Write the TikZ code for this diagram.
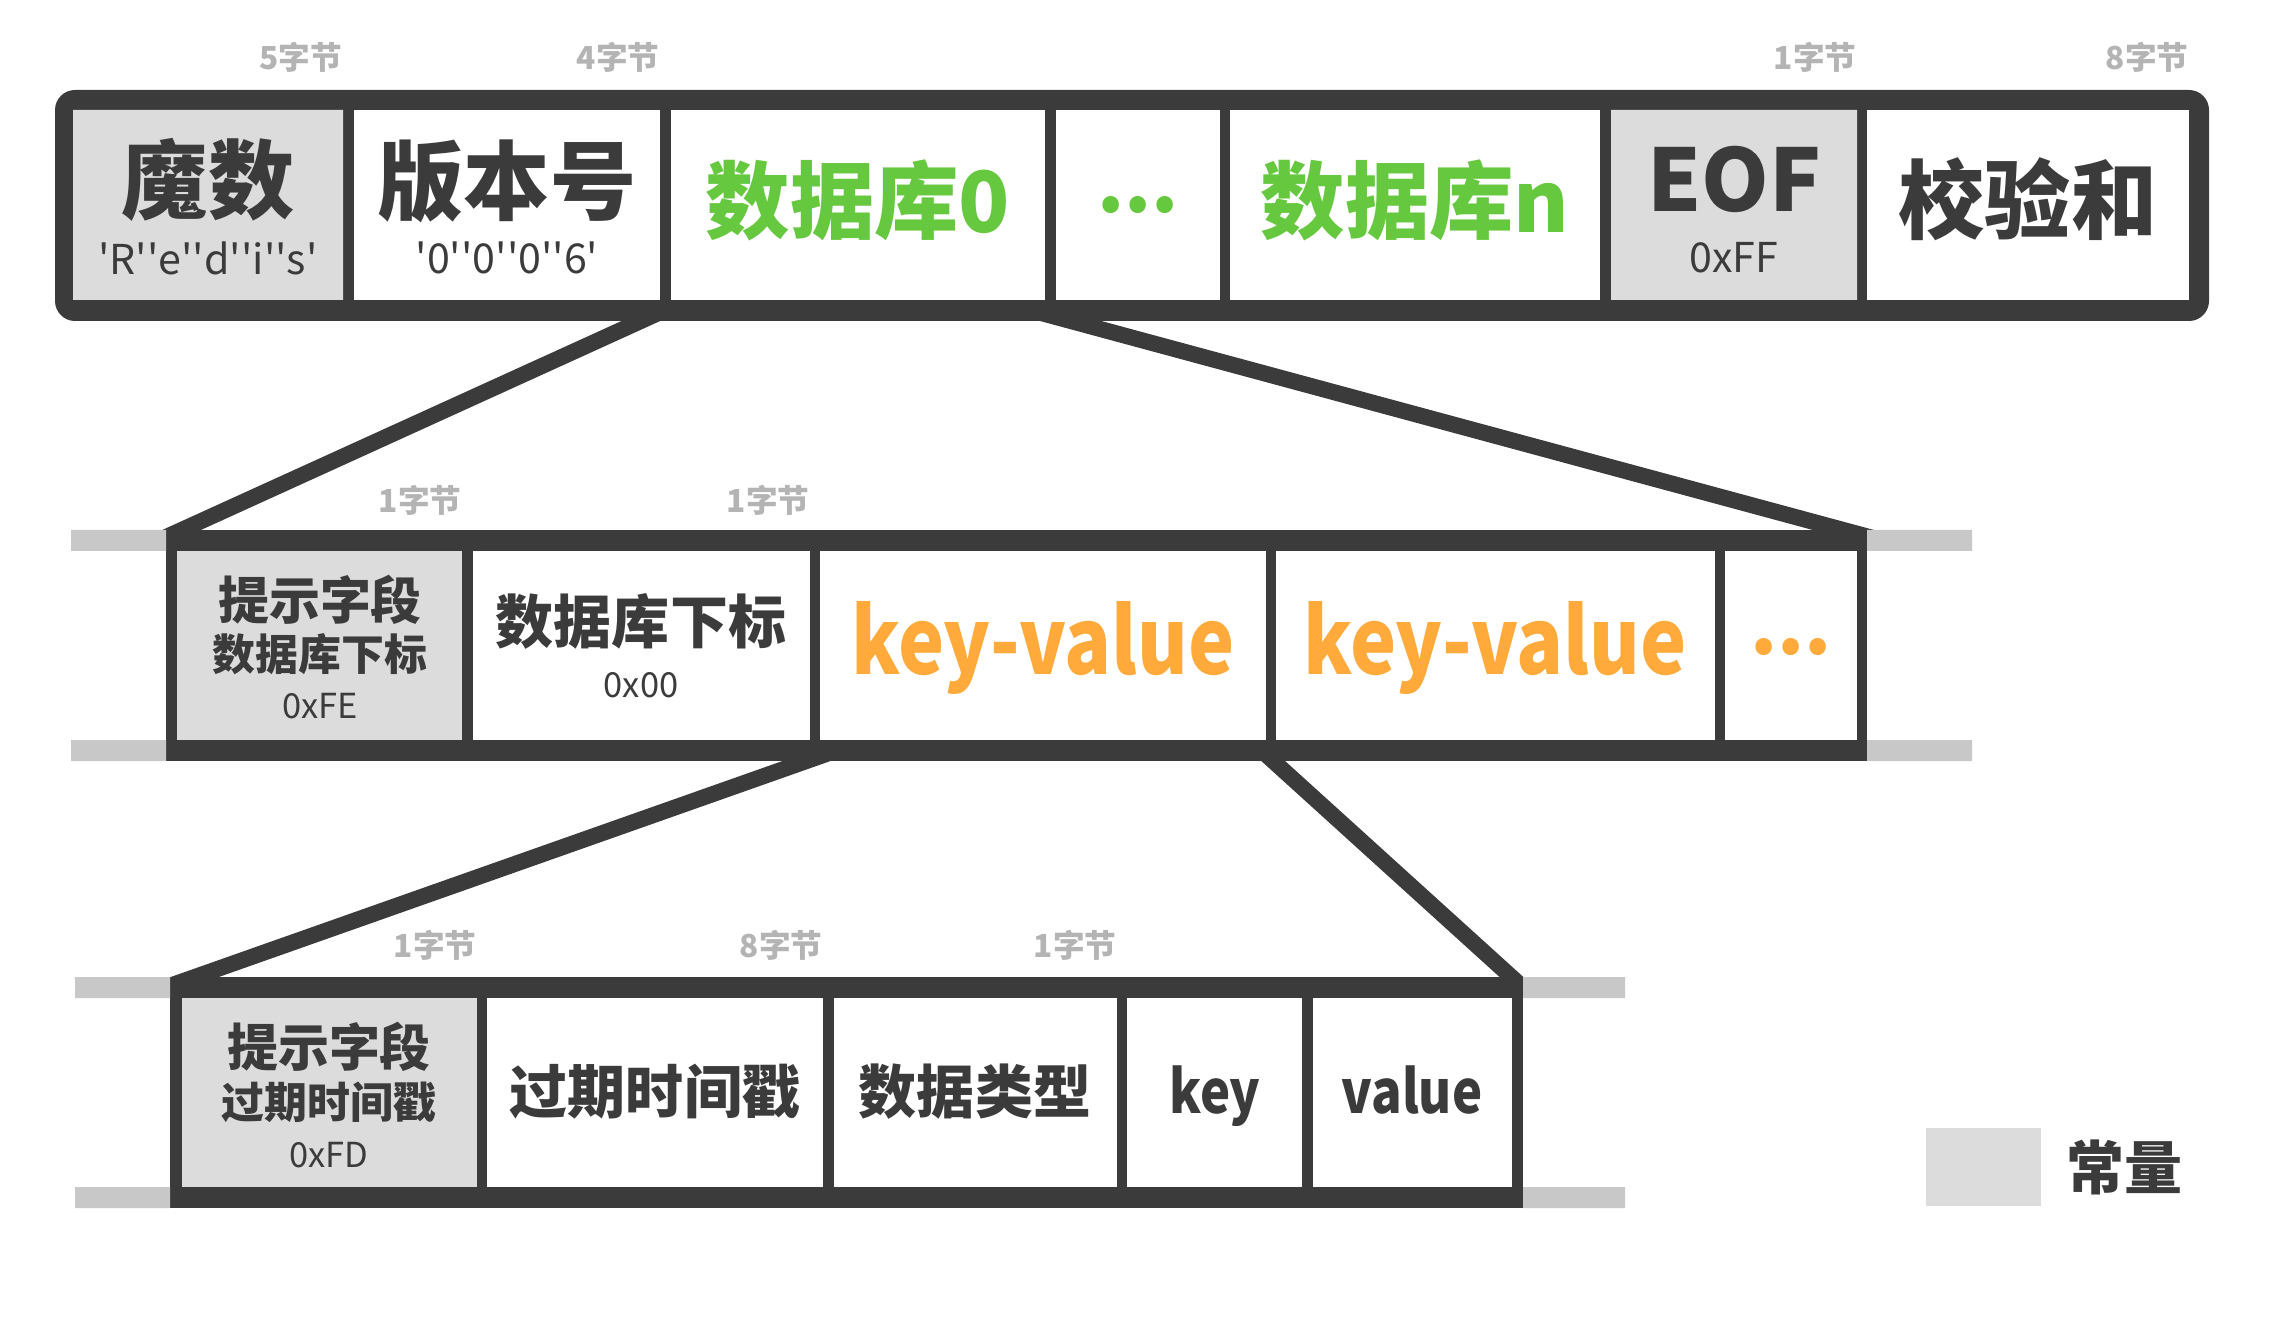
\documentclass[tikz,border=0pt]{standalone}
\usepackage{fontspec}
\setmainfont{Noto Sans CJK SC}
\definecolor{dark}{HTML}{3B3B3B}
\definecolor{constgray}{HTML}{DCDCDC}
\definecolor{tabgray}{HTML}{C8C8C8}
\definecolor{lblgray}{HTML}{B4B4B4}
\definecolor{dbgreen}{HTML}{66C83F}
\definecolor{kvorange}{HTML}{FFAA3B}
\newcommand{\q}{\textquotesingle}
\newcommand{\narrow}[1]{\scalebox{0.85}[1]{#1}}
\begin{document}
\begin{tikzpicture}[x=0.01cm, y=-0.01cm, line join=miter,
	diag/.style={draw=dark, line width=0.16cm},
	txt/.style={inner sep=0pt, text=dark, font=\bfseries\fontsize{#1}{#1}\selectfont},
	sub/.style={inner sep=0pt, text=dark, font=\fontsize{#1}{#1}\selectfont},
	bytes/.style={anchor=east, inner sep=0pt, text=lblgray, font=\bfseries\fontsize{9}{9}\selectfont}]
	\useasboundingbox (0,0) rectangle (2285,1331);
	% zoom lines, drawn first so the bars cover their ends
	\coordinate (db0a) at (687,300); \coordinate (midtl) at (164,538);
	\coordinate (db0b) at (993,300); \coordinate (midtr) at (1873,538);
	\coordinate (kva) at (866,740); \coordinate (bottl) at (158,990);
	\coordinate (kvb) at (1250,740); \coordinate (bottr) at (1528,992);
	\draw[diag] (db0a) -- (midtl) (db0b) -- (midtr) (kva) -- (bottl) (kvb) -- (bottr);
	% rdb file
	\fill[dark, rounded corners=2mm] (55,90) rectangle (2209,321);
	\fill[constgray] (73,110) rectangle (343,300) (1611,110) rectangle (1857,300);
	\foreach \a/\b in {354/660, 671/1045, 1056/1220, 1230/1600, 1867/2189}
		\fill[white] (\a,110) rectangle (\b,300);
	\node[txt=24.5] (magic) at (208,180) {魔数};
	\node[sub=11.7] (magicv) at (208,258) {\q R\q\q e\q\q d\q\q i\q\q s\q};
	\node[txt=24.5] (ver) at (507,181) {版本号};
	\node[sub=11.7] (verv) at (507,258) {\q 0\q\q 0\q\q 0\q\q 6\q};
	\node[txt=24, text=dbgreen] (db0) at (858,200) {数据库0};
	\node[txt=22, text=dbgreen] (dbdots) at (1138,205) {...};
	\node[txt=24, text=dbgreen] (dbn) at (1415,200) {数据库n};
	\node[txt=24.5] (eof) at (1734,179) {EOF};
	\node[sub=11.7] (eofv) at (1734,258) {0xFF};
	\node[txt=24.5] (chk) at (2028,199) {校验和};
	\node[bytes] (l5) at (343,57) {5字节};
	\node[bytes] (l4) at (660,57) {4字节};
	\node[bytes] (l1) at (1857,57) {1字节};
	\node[bytes] (l8) at (2189,57) {8字节};
	% database
	\fill[dark] (166,530) rectangle (1867,761);
	\fill[tabgray] (71,530) rectangle (166,551) (71,740) rectangle (166,761) (1867,530) rectangle (1972,551) (1867,740) rectangle (1972,761);
	\fill[constgray] (177,551) rectangle (462,740);
	\foreach \a/\b in {473/810, 820/1266, 1276/1715, 1725/1857}
		\fill[white] (\a,551) rectangle (\b,740);
	\node[txt=14.5] (sel) at (320,600) {提示字段};
	\node[txt=12.2] (selname) at (320,654) {数据库下标};
	\node[sub=9.8] (selv) at (320,706) {0xFE};
	\node[txt=16.5] (idx) at (641,621) {数据库下标};
	\node[sub=9.8] (idxv) at (641,685) {0x00};
	\node[txt=26, text=kvorange, anchor=base] (kv1) at (1043,675) {\narrow{key-value}};
	\node[txt=26, text=kvorange, anchor=base] (kv2) at (1495,675) {\narrow{key-value}};
	\node[txt=22, text=kvorange] (kvdots) at (1791,647) {...};
	\node[bytes] (ls1) at (462,500) {1字节};
	\node[bytes] (ls2) at (810,500) {1字节};
	% key-value
	\fill[dark] (170,977) rectangle (1523,1208);
	\fill[tabgray] (75,977) rectangle (170,998) (75,1187) rectangle (170,1208) (1523,977) rectangle (1625,998) (1523,1187) rectangle (1625,1208);
	\fill[constgray] (182,998) rectangle (477,1187);
	\foreach \a/\b in {487/823, 834/1117, 1127/1302, 1313/1512}
		\fill[white] (\a,998) rectangle (\b,1187);
	\node[txt=14.5] (exp) at (329,1047) {提示字段};
	\node[txt=12.2] (expname) at (329,1102) {过期时间戳};
	\node[sub=9.8] (expv) at (329,1155) {0xFD};
	\node[txt=16.5] (ts) at (655,1092) {过期时间戳};
	\node[txt=16.5] (type) at (975,1092) {数据类型};
	\node[txt=17, anchor=base] (key) at (1215,1113) {\narrow{key}};
	\node[txt=17, anchor=base] (val) at (1412,1113) {\narrow{value}};
	\node[bytes] (lk1) at (477,945) {1字节};
	\node[bytes] (lk8) at (823,945) {8字节};
	\node[bytes] (lk2) at (1117,945) {1字节};
	% legend
	\node[fill=constgray, minimum width=1.15cm, minimum height=0.78cm, inner sep=0pt] (legend) at (1983.5,1167) {};
	\node[txt=16.5] (legendtxt) at (2124,1167) {常量};
\end{tikzpicture}
\end{document}
